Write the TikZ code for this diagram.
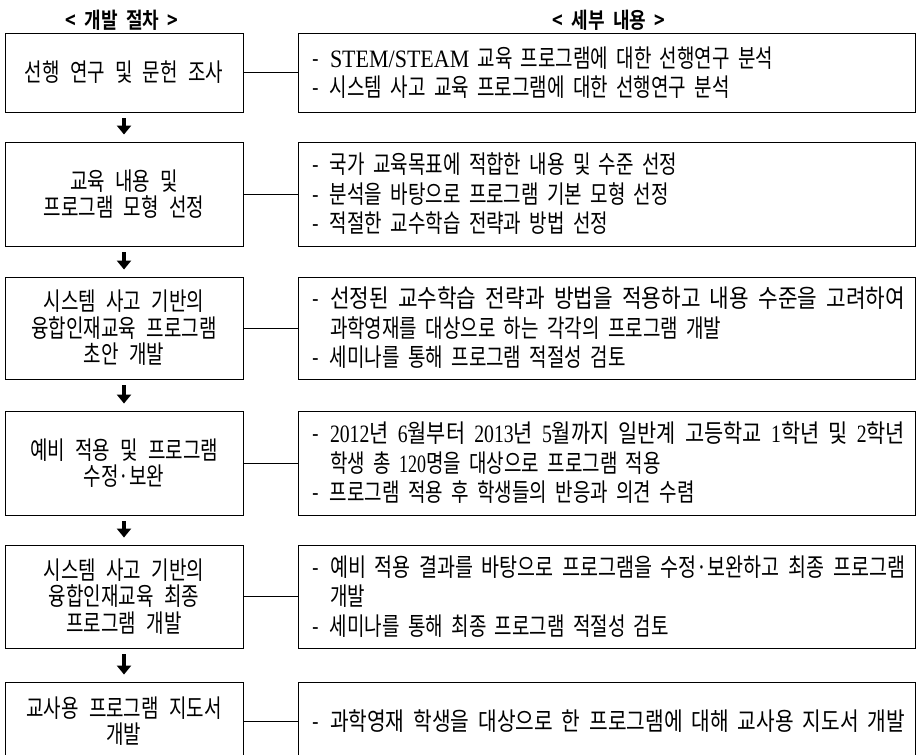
\documentclass[tikz,border=0pt]{standalone}
\usepackage{fontspec}
\usepackage{graphicx}
\setmainfont{Noto Sans CJK KR}[FakeStretch=0.76, WordSpace=2.4]
\newfontfamily\lat{Liberation Serif}[FakeStretch=0.72]
\newfontfamily\latw{Liberation Serif}[FakeStretch=0.88]
\newfontfamily\hdr{Noto Sans CJK KR Bold}[FakeStretch=0.82, WordSpace=2]
\usetikzlibrary{arrows.meta}
\newcommand\dashit{\makebox[18pt][l]{-}}
\newcommand\contl{\hspace*{18pt}}
\newcommand\fitl[1]{\resizebox{575pt}{\height}{#1}}
\tikzset{
  lbox/.style={draw, line width=0.9pt, minimum width=238pt, inner sep=0pt,
    align=center, font=\fontsize{25}{26.5}\selectfont},
  rbox/.style={draw, line width=0.9pt, text width=589pt, inner xsep=14pt,
    inner ysep=0pt, align=left, font=\fontsize{25}{29.5}\selectfont},
  hdrtext/.style={font=\hdr\fontsize{22}{24}\selectfont, inner sep=0pt},
  conn/.style={line width=0.9pt},
  arr/.style={line width=4pt, -{Triangle[width=14pt,length=9pt]}}
}
\begin{document}
\begin{tikzpicture}[x=1pt,y=-1pt]
\useasboundingbox (0,0) rectangle (921,755);
\clip (0,0) rectangle (921,755);
\fill[white] (0,0) rectangle (921,755);

\node[hdrtext] (h1) at (122,20) {< 개발 절차 >};
\node[hdrtext] (h2) at (609,20) {< 세부 내용 >};

% left boxes
\node[lbox, minimum height=79pt]  (l1) at (124,72.5) {선행 연구 및 문헌 조사};
\node[lbox, minimum height=104pt] (l2) at (124,194) {교육 내용 및\\프로그램 모형 선정};
\node[lbox, minimum height=102pt] (l3) at (124,328) {시스템 사고 기반의\\융합인재교육 프로그램\\초안 개발};
\node[lbox, minimum height=104pt] (l4) at (124,463) {예비 적용 및 프로그램\\수정·보완};
\node[lbox, minimum height=103pt] (l5) at (124,596.5) {시스템 사고 기반의\\융합인재교육 최종\\프로그램 개발};
\node[lbox, minimum height=78pt]  (l6) at (124,721) {교사용 프로그램 지도서\\개발};

% right boxes
\node[rbox, minimum height=79pt] (r1) at (606.5,72.5) {%
\dashit{\latw STEM/STEAM} 교육 프로그램에 대한 선행연구 분석\\
\dashit 시스템 사고 교육 프로그램에 대한 선행연구 분석};
\node[rbox, minimum height=104pt] (r2) at (606.5,194) {%
\dashit 국가 교육목표에 적합한 내용 및 수준 선정\\
\dashit 분석을 바탕으로 프로그램 기본 모형 선정\\
\dashit 적절한 교수학습 전략과 방법 선정};
\node[rbox, minimum height=102pt] (r3) at (606.5,328) {%
\dashit\fitl{선정된 교수학습 전략과 방법을 적용하고 내용 수준을 고려하여}\\
\contl 과학영재를 대상으로 하는 각각의 프로그램 개발\\
\dashit 세미나를 통해 프로그램 적절성 검토};
\node[rbox, minimum height=104pt] (r4) at (606.5,463) {%
\dashit\fitl{{\lat 2012}년 {\lat 6}월부터 {\lat 2013}년 {\lat 5}월까지 일반계 고등학교 {\lat 1}학년 및 {\lat 2}학년}\\
\contl 학생 총 {\lat 120}명을 대상으로 프로그램 적용\\
\dashit 프로그램 적용 후 학생들의 반응과 의견 수렴};
\node[rbox, minimum height=103pt] (r5) at (606.5,596.5) {%
\dashit\fitl{예비 적용 결과를 바탕으로 프로그램을 수정·보완하고 최종 프로그램}\\
\contl 개발\\
\dashit 세미나를 통해 최종 프로그램 적절성 검토};
\node[rbox, minimum height=78pt] (r6) at (606.5,721) {%
\dashit\fitl{과학영재 학생을 대상으로 한 프로그램에 대해 교사용 지도서 개발}};

% connectors
\foreach \i in {1,...,6} { \draw[conn] (l\i.east) -- (r\i.west); }

% arrows
\draw[arr] ([yshift=-6pt]l1.south) -- ([yshift=7pt]l2.north);
\draw[arr] ([yshift=-6pt]l2.south) -- ([yshift=7pt]l3.north);
\draw[arr] ([yshift=-6pt]l3.south) -- ([yshift=7pt]l4.north);
\draw[arr] ([yshift=-6pt]l4.south) -- ([yshift=7pt]l5.north);
\draw[arr] ([yshift=-6pt]l5.south) -- ([yshift=7pt]l6.north);
\end{tikzpicture}
\end{document}
